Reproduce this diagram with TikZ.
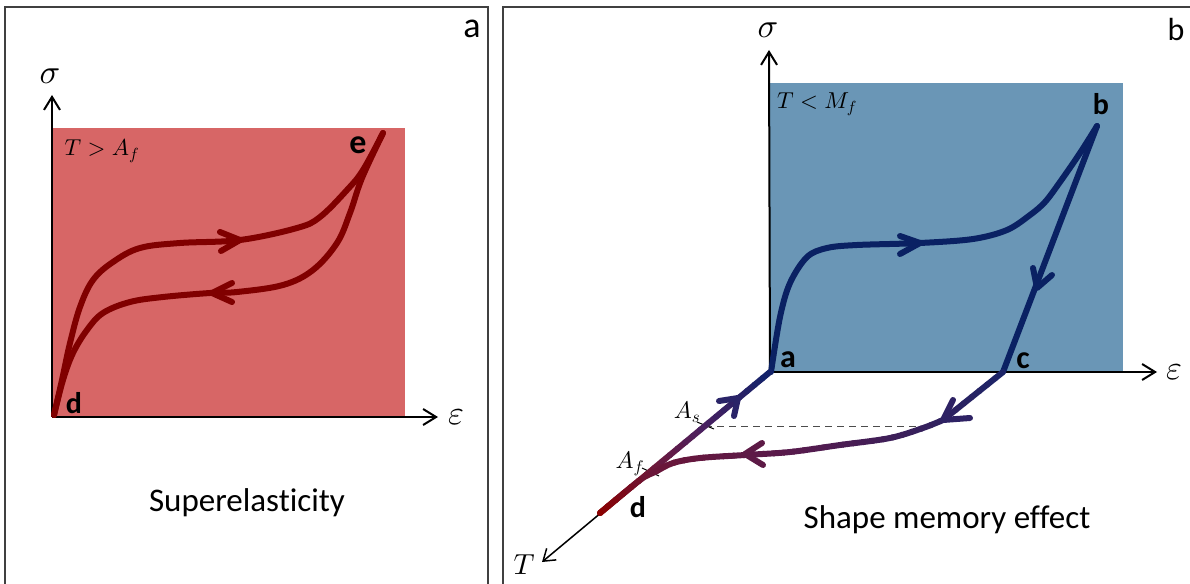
\documentclass[tikz,border=0pt]{standalone}
\usepackage{fontspec}
\setmainfont{Carlito}[Ligatures=NoCommon]
\DeclareFontShape{OML}{cmm}{m}{it}{<->cmmi10}{}
\DeclareFontShape{OMS}{cmsy}{m}{n}{<->cmsy10}{}
\DeclareFontShape{OT1}{cmr}{m}{n}{<->cmr10}{}
\usetikzlibrary{arrows.meta,calc}
\definecolor{redfill}{HTML}{D76666}
\definecolor{bluefill}{HTML}{6A96B6}
\definecolor{maroonc}{HTML}{800000}
\definecolor{navyc}{HTML}{0A2163}
\definecolor{g0}{HTML}{1C2468}
\definecolor{g1}{HTML}{561B4E}
\definecolor{g2}{HTML}{6B1638}
\definecolor{g3}{HTML}{8B0000}
\definecolor{h0}{HTML}{8B0000}
\definecolor{h1}{HTML}{701838}
\definecolor{h2}{HTML}{4A2060}
\definecolor{h3}{HTML}{14226A}
\definecolor{arrc}{HTML}{2E2264}
\definecolor{arrl}{HTML}{5D1A46}
\definecolor{arrd}{HTML}{2A2468}
\begin{document}
\begin{tikzpicture}[x=1pt,y=-1pt,
  frame/.style={draw=black!75, line width=1.2pt},
  axis/.style={line width=2pt, -{Straight Barb[length=13pt,width=16pt]}},
  taxis/.style={line width=1.5pt, -{Straight Barb[length=11pt,width=15pt]}},
  curve/.style={line width=6pt, line cap=round, line join=round},
  bigbold/.style={font=\fontsize{34}{36}\selectfont\bfseries, inner sep=0pt},
  smallbold/.style={font=\fontsize{30}{32}\selectfont\bfseries, inner sep=0pt},
  mathlbl/.style={font=\fontsize{23}{26}\selectfont, inner sep=0pt},
  smallmath/.style={font=\fontsize{24}{26}\selectfont, inner sep=0pt},
  axlbl/.style={font=\fontsize{34}{36}\selectfont, inner sep=0pt},
  titlelbl/.style={font=\fontsize{33}{36}\selectfont, inner sep=0pt},
  pathone/.style={insert path={(c) -- plot[smooth,tension=0.55] coordinates {(943,420) (923,428) (890,438) (840,445) (790,452) (745,455) (700,458) (673,463) (655,472) (640,480) (600,513)}}},
  pathtwo/.style={insert path={(d) -- (a)}}]

\useasboundingbox (0,0) rectangle (1190,583);

% frames
\draw[frame] (5,600) -- (5,7) -- (488,7) -- (488,600);
\draw[frame] (503,600) -- (503,7) -- (1200,7);

%% ---------------- panel a ----------------
\fill[redfill] (52,128) rectangle (405,417);
\coordinate (oa) at (52,417);
\coordinate (sa) at (52,95);
\coordinate (ea) at (438,417);
\draw[axis] (oa) -- (sa);
\draw[axis] (oa) -- (ea);
\coordinate (d1) at (54,415);
\coordinate (e1) at (383,133);
\draw[curve, maroonc] plot[smooth, tension=0.6] coordinates {(54,415) (62,380) (70,343) (80,307) (93,280) (113,262) (140,248) (180,243) (240,240) (297,228) (320,217) (347,190) (363,170) (383,133)};
\draw[curve, maroonc] plot[smooth, tension=0.6] coordinates {(383,133) (362,178) (350,213) (337,243) (313,270) (283,285) (237,292) (210,293) (163,297) (130,302) (103,313) (87,330) (73,353) (63,380) (54,415)};
\draw[curve, maroonc] (220,232) -- (240,240) -- (221,251);
\draw[curve, maroonc] (232,283) -- (212,293) -- (232,302);

\node[mathlbl] (Ta) at (102,151) {$T>A_f$};
\node[bigbold] (le) at (358,145) {e};
\node[smallbold] (ld) at (74,403) {d};
\node[axlbl] (siga) at (50,76) {$\sigma$};
\node[axlbl] (epsa) at (456,417) {$\varepsilon$};
\node[font=\fontsize{36}{38}\selectfont, inner sep=0pt] (pa) at (472,29) {a};
\node[titlelbl] (sup) at (247,503) {Superelasticity};

%% ---------------- panel b ----------------
\fill[bluefill] (769,83) rectangle (1123,372);
\coordinate (a) at (770,372);
\coordinate (b) at (1097,126);
\coordinate (c) at (1003,372);
\coordinate (d) at (600,513);
\coordinate (Tend) at (542,562);
\coordinate (sb) at (769,50);
\coordinate (eb) at (1157,372);
\draw[axis] (a) -- (sb);
\draw[axis] (a) -- (eb);
\draw[taxis] (a) -- (Tend);

% dashed level line and ticks
\coordinate (As) at (705,426);
\coordinate (Af) at (650,472);
\draw[black!70, line width=1pt, dash pattern=on 7pt off 5pt] (As) -- (928,426);
\draw[line width=1pt] (697,422) -- (714,429);
\draw[line width=1pt] (642,468) -- (659,476);

% loading curve a -> b and unloading b -> c
\draw[curve, navyc] plot[smooth, tension=0.55] coordinates {(771,372) (780,317) (790,283) (807,257) (827,248) (857,245) (920,243) (973,239) (1007,230) (1030,215) (1045,202) (1060,182) (1080,153) (1097,126)};
\draw[curve, navyc] (b) -- (c);
\draw[curve, navyc] (900,236) -- (920,243) -- (900,254);
\draw[curve, navyc] (1033,268) -- (1037,288) -- (1052,275);

% heating path d -> a with colour gradient
\foreach \gi in {0,...,21}{
  \pgfmathsetmacro\gt{\gi/21*100}
  \ifdim\gt pt<30pt
    \pgfmathsetmacro\gp{\gt/30*100}\colorlet{gc}{h1!\gp!h0}%
  \else\ifdim\gt pt<62pt
    \pgfmathsetmacro\gp{(\gt-30)/32*100}\colorlet{gc}{h2!\gp!h1}%
  \else
    \pgfmathsetmacro\gp{(\gt-62)/38*100}\colorlet{gc}{h3!\gp!h2}%
  \fi\fi
  \pgfmathsetmacro\gph{2010.5-\gi*10.04}
  \draw[curve, draw=gc, dash pattern=on 10.5pt off 2000pt, dash phase=\gph pt, pathtwo];
}
% unloading path c -> d with colour gradient
\foreach \gi in {0,...,44}{
  \pgfmathsetmacro\gt{\gi/44*100}
  \ifdim\gt pt<50pt
    \pgfmathsetmacro\gp{\gt/50*100}\colorlet{gc}{g1!\gp!g0}%
  \else\ifdim\gt pt<85pt
    \pgfmathsetmacro\gp{(\gt-50)/35*100}\colorlet{gc}{g2!\gp!g1}%
  \else
    \pgfmathsetmacro\gp{(\gt-85)/15*100}\colorlet{gc}{g3!\gp!g2}%
  \fi\fi
  \pgfmathsetmacro\gph{2010.5-\gi*10}
  \draw[curve, draw=gc, dash pattern=on 10.5pt off 2000pt, dash phase=\gph pt, pathone];
}
\draw[curve, arrc] (953,400) -- (943,420) -- (970,418);
\draw[curve, arrl] (762,443) -- (745,454) -- (763,465);
\draw[curve, arrd] (719,401) -- (738,398) -- (734,416);

\node[mathlbl] (Tb) at (817,104) {$T<M_f$};
\node[smallbold] (lb) at (1101,104) {b};
\node[smallbold, font=\fontsize{32}{34}\selectfont\bfseries] (la) at (788,360) {a};
\node[smallbold, font=\fontsize{32}{34}\selectfont\bfseries] (lc) at (1023,361) {c};
\node[smallbold] (ldb) at (638,507) {d};
\node[smallmath] (lAs) at (687,412) {$A_s$};
\node[smallmath] (lAf) at (630,464) {$A_f$};
\node[font=\fontsize{29}{32}\selectfont, inner sep=0pt] (Tlbl) at (524,565) {$T$};
\node[axlbl] (sigb) at (768,30) {$\sigma$};
\node[axlbl] (epsb) at (1174,372) {$\varepsilon$};
\node[font=\fontsize{32}{34}\selectfont, inner sep=0pt] (pb) at (1176,30) {b};
\node[titlelbl] (sme) at (947,520) {Shape memory effect};
\end{tikzpicture}
\end{document}
